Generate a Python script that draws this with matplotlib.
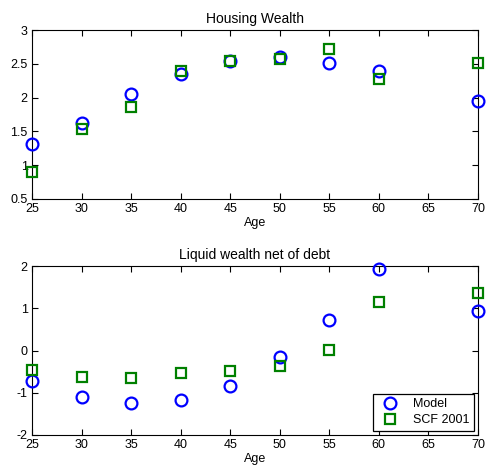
import matplotlib
matplotlib.use('Agg')
import matplotlib.pyplot as plt
from matplotlib.ticker import FormatStrFormatter

plt.rcParams['font.family'] = ['Liberation Sans', 'DejaVu Sans']

ages = [25, 30, 35, 40, 45, 50, 55, 60, 70]

# Housing wealth
housing_model = [1.32, 1.63, 2.05, 2.35, 2.54, 2.60, 2.52, 2.40, 1.95]
housing_scf = [0.90, 1.54, 1.86, 2.40, 2.54, 2.57, 2.72, 2.28, 2.51]

# Liquid wealth net of debt
liquid_model = [-0.73, -1.10, -1.24, -1.18, -0.83, -0.16, 0.72, 1.94, 0.94]
liquid_scf = [-0.46, -0.63, -0.65, -0.53, -0.48, -0.36, 0.02, 1.16, 1.35]

x_ticks = [25, 30, 35, 40, 45, 50, 55, 60, 65, 70]

fig = plt.figure(figsize=(4.86, 4.70), dpi=100)
ax1 = fig.add_axes([0.0658, 0.5766, 0.9177, 0.3594])
ax2 = fig.add_axes([0.0658, 0.0745, 0.9177, 0.3595])


def style_axes(ax, title, ylim, yticks):
    ax.set_xlim(25, 70)
    ax.set_ylim(*ylim)
    ax.set_xticks(x_ticks)
    ax.set_yticks(yticks)
    ax.yaxis.set_major_formatter(FormatStrFormatter('%g'))
    ax.tick_params(direction='in', top=True, right=True, labelsize=9,
                   length=4, width=0.8, pad=3)
    ax.set_title(title, fontsize=10, pad=5)
    ax.set_xlabel('Age', fontsize=9, labelpad=1)
    for s in ax.spines.values():
        s.set_linewidth(0.8)


ax1.plot(ages, housing_model, 'o', mfc='none', mec='blue', ms=8.5, mew=1.6,
         clip_on=False, zorder=3)
ax1.plot(ages, housing_scf, 's', mfc='none', mec='green', ms=6.5, mew=1.6,
         clip_on=False, zorder=3)
style_axes(ax1, 'Housing Wealth', (0.5, 3), [0.5, 1, 1.5, 2, 2.5, 3])

ax2.plot(ages, liquid_model, 'o', mfc='none', mec='blue', ms=8.5, mew=1.6,
         label='Model', clip_on=False, zorder=3)
ax2.plot(ages, liquid_scf, 's', mfc='none', mec='green', ms=6.5, mew=1.6,
         label='SCF 2001', clip_on=False, zorder=3)
style_axes(ax2, 'Liquid wealth net of debt', (-2, 2), [-2, -1, 0, 1, 2])

leg = ax2.legend(loc='lower right', fontsize=9, fancybox=False,
                 edgecolor='black', framealpha=1, borderaxespad=0.35,
                 handletextpad=0.8, borderpad=0.35, labelspacing=0.3)
leg.get_frame().set_linewidth(0.9)

fig.savefig('out.png', dpi=100)
